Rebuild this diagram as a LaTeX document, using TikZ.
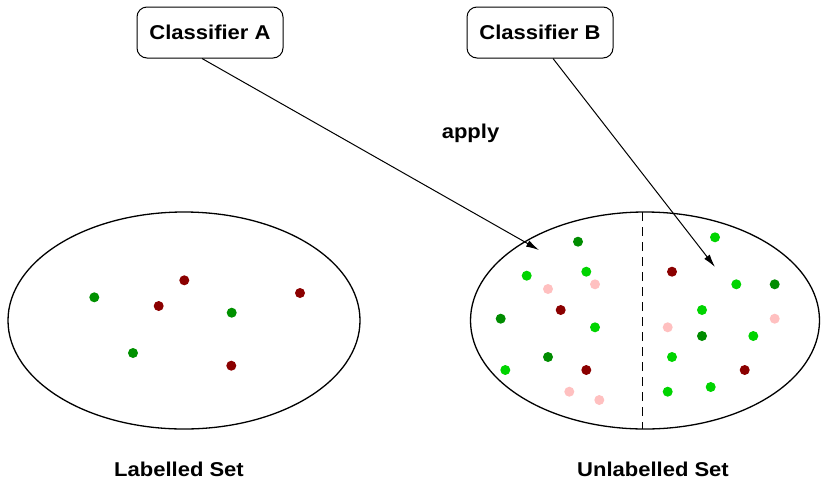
\documentclass[tikz,border=0pt]{standalone}
\usepackage{fontspec}
\setmainfont{Liberation Sans}[FakeStretch=1.1]
\usetikzlibrary{arrows.meta,shapes.geometric}
\definecolor{cred}{RGB}{139,0,0}
\definecolor{cgreen}{RGB}{0,145,0}
\definecolor{cdkgreen}{RGB}{0,140,0}
\definecolor{cltgreen}{RGB}{0,212,0}
\definecolor{cpink}{RGB}{255,192,192}
\tikzset{
  classbox/.style={draw, line width=1pt, rounded corners=10pt, minimum width=146pt,
    minimum height=51pt, inner sep=0pt, font=\bfseries\fontsize{20}{24}\selectfont},
  setshape/.style={draw, ellipse, line width=1.3pt, inner sep=0pt},
  caption/.style={anchor=base, inner sep=0pt, font=\bfseries\fontsize{20}{24}\selectfont},
  applyarrow/.style={line width=1pt, -{Latex[length=13pt,width=7pt]}},
  divider/.style={line width=1pt, dash pattern=on 9pt off 6pt}
}
% one point of a set
\newcommand{\spot}[3]{\fill[#1] (#2,#3) circle (5pt);}
\begin{document}
\begin{tikzpicture}[x=1pt,y=-1pt]
  \useasboundingbox (0,0) rectangle (821,480);

  % classifiers
  \node[classbox] (ca) at (210,32.5) {Classifier A};
  \node[classbox] (cb) at (540,32.5) {Classifier B};

  % the two sets
  \node[setshape, minimum width=352pt, minimum height=217pt] (ls) at (184,320.5) {};
  \node[setshape, minimum width=349pt, minimum height=217pt] (us) at (645,320.5) {};

  % split of the unlabelled set
  \coordinate (dtop) at (642,212);
  \coordinate (dbot) at (642,429);
  \draw[divider] (dtop) -- (dbot);

  % arrows from classifiers into the unlabelled set
  \coordinate (ta) at (539,250);
  \coordinate (tb) at (715,267);
  \draw[applyarrow] ([xshift=-8pt]ca.south) -- (ta);
  \draw[applyarrow] ([xshift=13pt]cb.south) -- (tb);

  % texts
  \node[caption] (ap) at (470.5,138.3) {apply};
  \node[caption] (ll) at (179,476.7) {Labelled Set};
  \node[caption] (ul) at (653,476.7) {Unlabelled Set};

  % labelled points
  \spot{cgreen}{94.3}{297.3}
  \spot{cred}{184.3}{280.3}
  \spot{cred}{158.7}{306}
  \spot{cgreen}{231.7}{312.7}
  \spot{cred}{300}{293}
  \spot{cgreen}{133}{353}
  \spot{cred}{231.3}{365.7}

  % unlabelled points, left part
  \spot{cdkgreen}{578}{241.7}
  \spot{cltgreen}{526.7}{275.7}
  \spot{cltgreen}{586.3}{271.7}
  \spot{cpink}{548}{289}
  \spot{cpink}{595}{284.3}
  \spot{cred}{560.7}{310}
  \spot{cdkgreen}{500.7}{318.7}
  \spot{cltgreen}{595}{327.3}
  \spot{cdkgreen}{548}{357}
  \spot{cltgreen}{505.3}{370}
  \spot{cred}{586.3}{370}
  \spot{cpink}{569.3}{391.7}
  \spot{cpink}{599.3}{400}

  % unlabelled points, right part
  \spot{cltgreen}{715}{237.3}
  \spot{cred}{672}{271.7}
  \spot{cltgreen}{736.3}{284.3}
  \spot{cdkgreen}{774.7}{284.3}
  \spot{cltgreen}{702}{310}
  \spot{cpink}{774.7}{318.7}
  \spot{cpink}{667.7}{327.3}
  \spot{cdkgreen}{702}{336}
  \spot{cltgreen}{753.3}{336}
  \spot{cltgreen}{672}{357}
  \spot{cred}{744.7}{370}
  \spot{cltgreen}{710.7}{387}
  \spot{cltgreen}{667.7}{391.7}
\end{tikzpicture}
\end{document}
